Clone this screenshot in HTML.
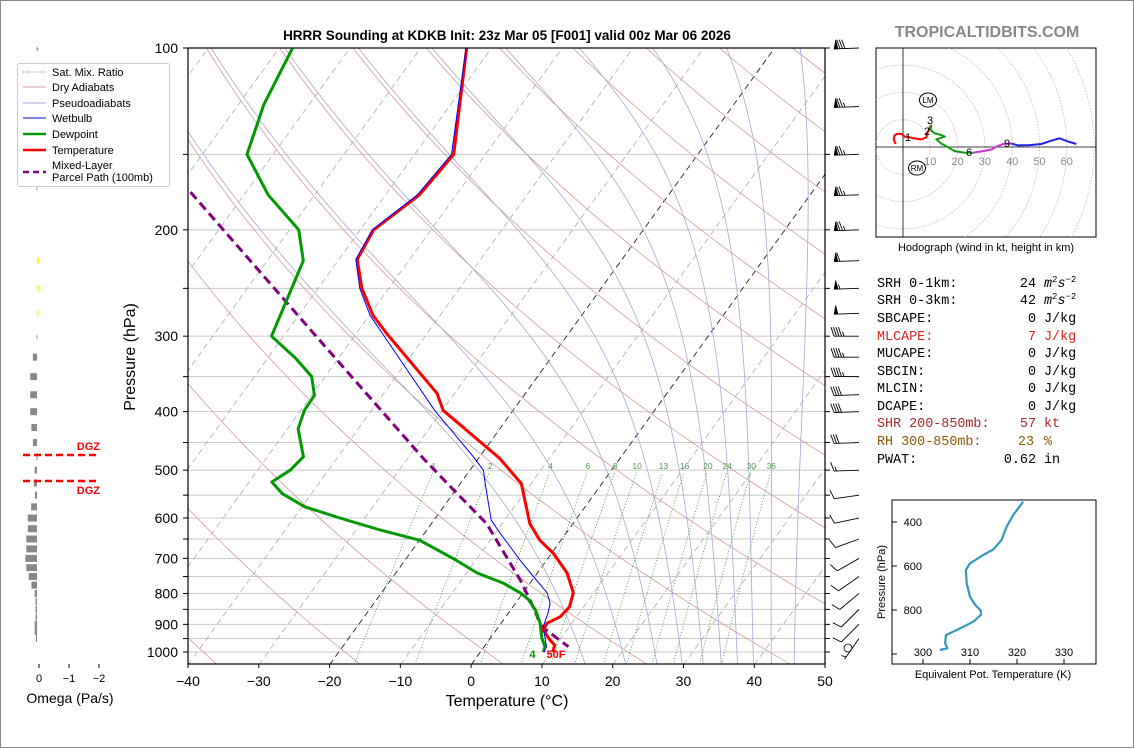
<!DOCTYPE html>
<html><head><meta charset="utf-8"><style>
html,body{margin:0;padding:0;background:#fff}
svg{display:block;font-family:"Liberation Sans",sans-serif}
.mono{font-family:"Liberation Mono",monospace;font-size:13.4px}
</style></head><body>
<svg id="svg" width="1134" height="748" viewBox="0 0 1134 748" xmlns="http://www.w3.org/2000/svg">
<rect x="0.5" y="0.5" width="1133" height="747" fill="#fff" stroke="#888"/>
<defs><clipPath id="mainclip"><rect x="188" y="48" width="637" height="616"/></clipPath>
<clipPath id="hodoclip"><rect x="876" y="48" width="220" height="189"/></clipPath></defs>
<g id="bg" clip-path="url(#mainclip)"></g>
<g id="series" clip-path="url(#mainclip)"></g>
<g id="axes"></g>
<g id="barbs"></g>
<g id="omega"></g>
<g id="hodo"></g>
<g id="ept"></g>

<text x="507" y="40" text-anchor="middle" font-size="13.5" font-weight="bold">HRRR Sounding at KDKB Init: 23z Mar 05 [F001] valid 00z Mar 06 2026</text>
<text x="987" y="37" text-anchor="middle" font-size="16" font-weight="bold" fill="#888">TROPICALTIDBITS.COM</text>
<text x="507" y="706" text-anchor="middle" font-size="16">Temperature (°C)</text>
<text transform="translate(135,357) rotate(-90)" text-anchor="middle" font-size="16">Pressure (hPa)</text>

<g>
<rect x="17.5" y="63.5" width="152" height="123" rx="2" fill="#fff" stroke="#ccc"/>
<line x1="23" y1="72" x2="46" y2="72" stroke="green" stroke-dasharray="1,1.5" stroke-width="0.8"/><text x="52" y="76" font-size="11">Sat. Mix. Ratio</text>
<line x1="23" y1="87" x2="46" y2="87" stroke="#d9a0a0" stroke-width="1"/><text x="52" y="91" font-size="11">Dry Adiabats</text>
<line x1="23" y1="103" x2="46" y2="103" stroke="#a0a0d8" stroke-width="1"/><text x="52" y="107" font-size="11">Pseudoadiabats</text>
<line x1="23" y1="118" x2="46" y2="118" stroke="blue" stroke-width="1"/><text x="52" y="122" font-size="11">Wetbulb</text>
<line x1="23" y1="134" x2="46" y2="134" stroke="#009900" stroke-width="2.5"/><text x="52" y="138" font-size="11">Dewpoint</text>
<line x1="23" y1="150" x2="46" y2="150" stroke="red" stroke-width="2.5"/><text x="52" y="154" font-size="11">Temperature</text>
<line x1="23" y1="172" x2="46" y2="172" stroke="purple" stroke-width="2.5" stroke-dasharray="6,4"/><text x="52" y="169" font-size="11">Mixed-Layer</text><text x="52" y="181" font-size="11">Parcel Path (100mb)</text>
</g>

<g class="mono">
<text x="877" y="287" class="mono">SRH 0-1km:</text><text x="1036" y="287" text-anchor="end" class="mono">24</text><text x="1044" y="287" class="mono"><tspan font-style="italic">m</tspan><tspan font-size="9" dy="-5">2</tspan><tspan dy="5" font-style="italic">s</tspan><tspan font-size="9" dy="-5">−2</tspan></text>
<text x="877" y="304" class="mono">SRH 0-3km:</text><text x="1036" y="304" text-anchor="end" class="mono">42</text><text x="1044" y="304" class="mono"><tspan font-style="italic">m</tspan><tspan font-size="9" dy="-5">2</tspan><tspan dy="5" font-style="italic">s</tspan><tspan font-size="9" dy="-5">−2</tspan></text>
<text x="877" y="322" class="mono">SBCAPE:</text><text x="1036" y="322" text-anchor="end" class="mono">0</text><text x="1044" y="322" class="mono">J/kg</text>
<text x="877" y="340" class="mono" fill="#dd2222">MLCAPE:</text><text x="1036" y="340" text-anchor="end" class="mono" fill="#dd2222">7</text><text x="1044" y="340" class="mono" fill="#dd2222">J/kg</text>
<text x="877" y="357" class="mono">MUCAPE:</text><text x="1036" y="357" text-anchor="end" class="mono">0</text><text x="1044" y="357" class="mono">J/kg</text>
<text x="877" y="375" class="mono">SBCIN:</text><text x="1036" y="375" text-anchor="end" class="mono">0</text><text x="1044" y="375" class="mono">J/kg</text>
<text x="877" y="392" class="mono">MLCIN:</text><text x="1036" y="392" text-anchor="end" class="mono">0</text><text x="1044" y="392" class="mono">J/kg</text>
<text x="877" y="410" class="mono">DCAPE:</text><text x="1036" y="410" text-anchor="end" class="mono">0</text><text x="1044" y="410" class="mono">J/kg</text>
<text x="877" y="427" class="mono" fill="#a52a2a">SHR 200-850mb:</text><text x="1036" y="427" text-anchor="end" class="mono" fill="#a52a2a">57</text><text x="1044" y="427" class="mono" fill="#a52a2a">kt</text>
<text x="877" y="445" class="mono" fill="#8b5a00">RH 300-850mb:</text><text x="1034" y="445" text-anchor="end" class="mono" fill="#8b5a00">23</text><text x="1044" y="445" class="mono" fill="#8b5a00">%</text>
<text x="877" y="463" class="mono">PWAT:</text><text x="1036" y="463" text-anchor="end" class="mono">0.62</text><text x="1044" y="463" class="mono">in</text>
</g>

<script>
// ===== Sounding data =====
const tempP = [100,150,175,200,224,250,277,297,373,398,478,526,613,653,687,740,798,842,874,896,919,955,974,1000];
const tempT = [-63.5,-54.5,-55.2,-58.1,-57.4,-53.8,-49.5,-45.7,-32.5,-29.9,-17.0,-11.4,-6.1,-3.0,0.3,4.2,7.1,8.0,7.7,6.5,6.6,8.6,9.8,10.2];
const dewP = [100,124,150,175,200,225,300,326,350,376,398,427,475,500,523,547,575,600,628,653,700,740,769,798,818,852,896,949,980,1000];
const dewT = [-88.1,-86.4,-83.7,-76.6,-68.7,-64.9,-61.7,-56.1,-51.9,-49.6,-49.5,-48.5,-44.9,-45.4,-46.8,-44.1,-39.6,-33.5,-26.6,-20.0,-13.4,-8.5,-3.8,-0.4,1.4,3.5,5.5,7.3,8.6,8.9];
const wetP = [100,150,175,200,224,250,277,297,398,475,500,526,605,636,704,750,798,831,863,908,980,1000];
const wetT = [-63.6,-54.8,-55.5,-58.3,-57.6,-54.1,-49.9,-46.3,-31.1,-20.9,-18.1,-16.5,-11.9,-9.3,-3.8,-0.2,3.4,4.9,5.6,6.3,8.8,9.0];
const parcelP = [160,173,300,478,539,613,760,820,908,980];
const parcelT = [-92.6,-87.9,-55.4,-27.8,-20.3,-12.2,-1.7,1.7,6.1,11.9];
const mixRatios = [1,2,4,6,8,10,13,16,20,24,30,36];
const xTicks = [-40,-30,-20,-10,0,10,20,30,40,50];
const pTicks = [100,200,300,400,500,600,700,800,900,1000];
const isobars = [100,150,200,250,300,350,400,450,500,550,600,650,700,750,800,850,900,950,1000];
// wind
const barbP = [100,125,150,175,200,225,250,275,300,325,350,375,400,450,500,550,600,650,700,750,800,850,900,950,1000];
const barbSpd = [80,75,75,75,75,60,55,50,45,45,45,40,40,30,15,10,10,10,10,10,10,10,10,5,0];
const barbDir = [268,268,268,268,268,268,268,268,270,270,270,268,268,268,268,262,258,250,240,235,230,225,225,215,0];
// omega
const omegaP = [325,350,375,400,425,450,475,500,525,550,575,600,625,650,675,700,725,750,775,800,825,850,875,900,925,950];
const omegaV = [0.17,0.26,0.26,0.26,0.22,0.17,0.05,0.11,0.14,0.1,0.23,0.34,0.34,0.39,0.39,0.42,0.39,0.31,0.22,0.11,0.08,0.08,0.08,0.11,0.11,0.07];
const omegaNegP = [225,250,275];
const omegaNegV = [-0.05,-0.04,-0.02];
// hodograph (u,v kt)
const hodoU03 = [-2.7,-3.4,-3.1,-2.2,-0.6,0.6,2.4,4.3,6.7,8.5,8.9,9.8,10.4];
const hodoV03 = [1.1,2.8,4.2,4.8,4.8,3.8,3.5,3.1,2.8,3.5,5.0,7.2,8.1];
const hodoU36 = [10.4,10.1,11.6,14.0,15.3,12.2,14.0,16.5,18.9,22.6,25.6];
const hodoV36 = [8.1,6.2,5.0,4.4,3.8,2.8,1.3,-0.1,-1.5,-2.1,-2.1];
const hodoU69 = [25.6,29.3,32.4,34.2,36.6,39.7];
const hodoV69 = [-2.1,-1.5,-0.9,0.1,1.1,1.3];
const hodoU9 = [39.7,42.1,46.4,50.7,54.3,57.4,60.4,63.5];
const hodoV9 = [1.3,0.6,0.7,1.1,2.3,3.2,2.0,1.1];
// theta-e profile
const eptP = [308,368,421,482,524,550,588,618,679,740,777,803,823,853,891,914,951,974,982];
const eptK = [321.3,319.2,317.8,316.7,315.0,312.8,310.0,309.1,309.3,310.0,311.1,312.3,312.3,310.7,307.2,304.9,304.7,305.2,303.6];

// ===== helpers =====
const NS='http://www.w3.org/2000/svg';
function mk(tag, parent, attrs){const e=document.createElementNS(NS,tag);for(const k in attrs)e.setAttribute(k,attrs[k]);parent.appendChild(e);return e;}
const yP = p => 48 + 604*Math.log10(p/100);
const xT = (T,p) => 188 + (T+40)*7.078 + 0.7215*(664.8 - yP(p));
function pathFrom(ps, ts){return ps.map((p,i)=>(i?'L':'M')+xT(ts[i],p).toFixed(1)+','+yP(p).toFixed(1)).join('');}

const bg=document.getElementById('bg'), ser=document.getElementById('series'), ax=document.getElementById('axes');

// isobars
isobars.forEach(p=>{const l=mk('line',bg,{x1:188,x2:825,y1:yP(p),y2:yP(p),stroke:'#c8c8c8','stroke-width':1});

});
// isotherms
for(let T=-130;T<=50;T+=10){
  const blk=(T===0||T===-20);
  const l=mk('line',bg,{x1:xT(T,1050),y1:yP(1050),x2:xT(T,100),y2:yP(100),stroke:blk?'#222':'#aaa','stroke-width':blk?0.9:0.8,'stroke-dasharray':'6,4'});
  
  
}
// dry adiabats (20 K spacing)
for(let th=214;th<=534;th+=20){
  let d='';for(let p=1050;p>=100;p-=10){const T=th*Math.pow(p/1000,0.286)-273.15;d+=(p===1050?'M':'L')+xT(T,p).toFixed(1)+','+yP(p).toFixed(1);}
  const l=mk('path',bg,{d:d,fill:'none',stroke:'#d49a9a','stroke-width':0.8});
  
  
}
// moist adiabats, integrated downward from 100 hPa
function rs(T,p){const es=6.112*Math.exp(17.67*(T-273.15)/(T-29.65));return 0.622*es/(p-es);}
function dTdp(T,p){const r=rs(T,p);return (287*T+2.5e6*r)/(p*(1005+2.5e6*2.5e6*r*0.622/(287*T*T)));}
for(let Ttop=-110;Ttop<=-5;Ttop+=10.4){
  let pts=[];let T=Ttop+273.15;
  for(let p=100;p<=1050;p+=2){pts.push([p,T]);T+=dTdp(T,p)*2;if(T>340)break;}
  const d=pts.map((q,i)=>(i?'L':'M')+xT(q[1]-273.15,q[0]).toFixed(1)+','+yP(q[0]).toFixed(1)).join('');
  const l=mk('path',bg,{d:d,fill:'none',stroke:'#a6a6d8','stroke-width':0.8});
  
  
}
// mixing ratio lines
function tdW(w,p){const e=w*p/(622+w);const a=Math.log(e/6.112);return 243.5*a/(17.67-a);}
mixRatios.forEach(w=>{
  let d='';for(let p=1050;p>=505;p-=5){d+=(p===1050?'M':'L')+xT(tdW(w,p),p).toFixed(1)+','+yP(p).toFixed(1);}
  const l=mk('path',bg,{d:d,fill:'none',stroke:'#2a9a2a','stroke-width':0.8,'stroke-dasharray':'1,2'});
  
  
  const t=mk('text',bg,{x:xT(tdW(w,500),500).toFixed(1),y:469,'font-size':8.5,fill:'#4a9a4a','text-anchor':'middle'});
  t.textContent=w;
  
  
});
// series
function series(ps,ts,col,w,dash,name){
  const a={d:pathFrom(ps,ts),fill:'none',stroke:col,'stroke-width':w,'stroke-linejoin':'round'};
  if(dash)a['stroke-dasharray']=dash;
  const l=mk('path',ser,a);
  
  
}
series(parcelP,parcelT,'purple',3,'9,5','parcel-path-line');
series(dewP,dewT,'#009900',3,null,'dewpoint-line');
series(tempP,tempT,'red',3,null,'temperature-line');
series(wetP,wetT,'blue',1,null,'wetbulb-line');
// surface labels
{const t=mk('text',ser,{x:xT(tempT[tempT.length-1],1000)-6,y:yP(1000)+6,'font-size':11,'font-weight':'bold',fill:'red'});t.textContent='50F';


const d=mk('text',ser,{x:xT(dewT[dewT.length-1],1000)-14,y:yP(1000)+6,'font-size':11,'font-weight':'bold',fill:'#009900'});d.textContent='4';

}

// axes frame
mk('rect',ax,{x:188,y:48,width:637,height:616,fill:'none',stroke:'#000','stroke-width':1.2});
xTicks.forEach(T=>{const x=188+(T+40)*7.078;mk('line',ax,{x1:x,x2:x,y1:664,y2:668,stroke:'#000'});
  const t=mk('text',ax,{x:x,y:686,'text-anchor':'middle','font-size':14});t.textContent=(T<0?'−':'')+Math.abs(T);
  
  });
isobars.forEach(p=>{mk('line',ax,{x1:183,x2:188,y1:yP(p),y2:yP(p),stroke:'#000'});mk('line',ax,{x1:825,x2:830,y1:yP(p),y2:yP(p),stroke:'#000'});});
pTicks.forEach(p=>{const t=mk('text',ax,{x:178,y:yP(p)+5,'text-anchor':'end','font-size':14});t.textContent=p;
  
  });

// wind barbs
const bgp=document.getElementById('barbs');
barbP.forEach((p,i)=>{
  const y=yP(p), px=859, spd=barbSpd[i];
  if(spd<2.5){const c=mk('circle',bgp,{cx:848,cy:y-4,r:4,fill:'none',stroke:'#000','stroke-width':0.8});
    
    return;}
  const r=barbDir[i]*Math.PI/180, L=25;
  const ux=Math.sin(r), uy=-Math.cos(r); const nx=-uy, ny=ux;
  const g=mk('g',bgp,{});
  
  
  const ex=px+ux*L, ey=y+uy*L;
  let d='M'+px+','+y+'L'+ex.toFixed(1)+','+ey.toFixed(1);
  let s=spd, pos=0; let fl='';
  while(s>=50){const ax1=ex-ux*pos, ay1=ey-uy*pos, bx=ex-ux*(pos+4), by=ey-uy*(pos+4);
    fl+='M'+ax1.toFixed(1)+','+ay1.toFixed(1)+'L'+(ax1+nx*9-ux*2).toFixed(1)+','+(ay1+ny*9-uy*2).toFixed(1)+'L'+bx.toFixed(1)+','+by.toFixed(1)+'Z';pos+=6;s-=50;}
  while(s>=10){const bx=ex-ux*pos, by=ey-uy*pos;d+='M'+bx.toFixed(1)+','+by.toFixed(1)+'L'+(bx+nx*9+ux*3).toFixed(1)+','+(by+ny*9+uy*3).toFixed(1);pos+=2.5;s-=10;}
  if(s>=5){if(pos===0)pos=2.5;const bx=ex-ux*pos, by=ey-uy*pos;d+='M'+bx.toFixed(1)+','+by.toFixed(1)+'L'+(bx+nx*4.5+ux*1.5).toFixed(1)+','+(by+ny*4.5+uy*1.5).toFixed(1);}
  mk('path',g,{d:d,stroke:'#000','stroke-width':0.9,fill:'none'});
  if(fl)mk('path',g,{d:fl,fill:'#000',stroke:'#000','stroke-width':0.5});
});

// omega panel
const om=document.getElementById('omega');
const ox = v => 38 - v*30;
mk('line',om,{x1:38,x2:38,y1:48,y2:50,stroke:'#999'});
[100,170].forEach(p=>mk('line',om,{x1:37,x2:37,y1:yP(p)-1,y2:yP(p)+3,stroke:'#999'}));
mk('line',om,{x1:37,x2:37,y1:yP(300)-1,y2:yP(300)+3,stroke:'#999'});
omegaP.forEach((p,i)=>{const x=ox(omegaV[i]);const r=mk('rect',om,{x:Math.min(x,37),y:yP(p)-3.5,width:Math.max(Math.abs(37-x),1),height:7,fill:'#888'});
  
  });
omegaNegP.forEach((p,i)=>{const x=ox(omegaNegV[i]);const r=mk('rect',om,{x:37,y:yP(p)-3,width:Math.max(x-37,1),height:6,fill:'#ffff00'});
  
  });
[0,-1,-2].forEach(v=>{mk('line',om,{x1:ox(v)+1,x2:ox(v)+1,y1:664,y2:668,stroke:'#000'});
  const t=mk('text',om,{x:ox(v)+1,y:682,'text-anchor':'middle','font-size':11});t.textContent=v===0?'0':'−'+Math.abs(v);
  
  });
{const t=mk('text',om,{x:70,y:703,'text-anchor':'middle','font-size':14});t.textContent='Omega (Pa/s)';

}
[455,481].forEach((y,i)=>{const l=mk('line',om,{x1:23,x2:98,y1:y,y2:y,stroke:'red','stroke-width':2.5,'stroke-dasharray':'7,4'});
  
  
  const t=mk('text',om,{x:100,y:i?494:450,'text-anchor':'end','font-size':11,'font-weight':'bold',fill:'red'});t.textContent='DGZ';
  
  });

// hodograph
const ho=document.getElementById('hodo');
const hx = u => 903 + u*2.73, hy = v => 147 - v*2.73;
mk('rect',ho,{x:876,y:48,width:220,height:189,fill:'#fff',stroke:'#000','stroke-width':1});
const hc=mk('g',ho,{'clip-path':'url(#hodoclip)'});
for(let r=10;r<=90;r+=10)mk('circle',hc,{cx:903,cy:147,r:r*2.73,fill:'none',stroke:'#bbb','stroke-width':0.8,'stroke-dasharray':'1.5,1.5'});
mk('line',hc,{x1:876,x2:1096,y1:147,y2:147,stroke:'#000','stroke-width':0.8});
mk('line',hc,{x1:903,x2:903,y1:48,y2:237,stroke:'#000','stroke-width':0.8});
[10,20,30,40,50,60].forEach(v=>{const t=mk('text',hc,{x:hx(v),y:165,'text-anchor':'middle','font-size':11,fill:'#888'});t.textContent=v;
  
  });
function hseg(us,vs,col,name){const d=us.map((u,i)=>(i?'L':'M')+hx(u).toFixed(1)+','+hy(vs[i]).toFixed(1)).join('');
  const l=mk('path',hc,{d:d,fill:'none',stroke:col,'stroke-width':2,'stroke-linejoin':'round'});
  
  }
hseg(hodoU03,hodoV03,'red','hodograph-0-3km');
hseg(hodoU36,hodoV36,'#119911','hodograph-3-6km');
hseg(hodoU69,hodoV69,'#cc33cc','hodograph-6-9km');
hseg(hodoU9,hodoV9,'#2222ee','hodograph-9km-plus');
[['1',908,141],['2',927,135],['3',930,124],['6',969,156],['9',1007,147]].forEach(a=>{const t=mk('text',hc,{x:a[1],y:a[2],'text-anchor':'middle','font-size':11});t.textContent=a[0];
  
  });
[['LM',928,100],['RM',917,168]].forEach(a=>{mk('ellipse',hc,{cx:a[1],cy:a[2],rx:8.5,ry:7,fill:'none',stroke:'#000','stroke-width':1});
  const t=mk('text',hc,{x:a[1],y:a[2]+3,'text-anchor':'middle','font-size':8});t.textContent=a[0];
  
  });
{const t=mk('text',ho,{x:986,y:251,'text-anchor':'middle','font-size':11});t.textContent='Hodograph (wind in kt, height in km)';

}

// EPT panel
const ep=document.getElementById('ept');
const ex_ = k => 923 + (k-300)*4.7, ey_ = p => 522 + (p-400)*0.22;
mk('rect',ep,{x:892,y:500,width:204,height:164,fill:'#fff',stroke:'#000','stroke-width':1});
[400,600,800,1000].forEach(p=>{mk('line',ep,{x1:892,x2:897,y1:ey_(p),y2:ey_(p),stroke:'#000'});
  if(p<1000){const t=mk('text',ep,{x:922,y:ey_(p)+4,'text-anchor':'end','font-size':11});t.textContent=p;
  
  }});
[300,310,320,330].forEach(k=>{mk('line',ep,{x1:ex_(k),x2:ex_(k),y1:659,y2:664,stroke:'#000'});
  const t=mk('text',ep,{x:ex_(k),y:656,'text-anchor':'middle','font-size':11});t.textContent=k;
  
  });
{const d=eptP.map((p,i)=>(i?'L':'M')+ex_(eptK[i]).toFixed(1)+','+ey_(p).toFixed(1)).join('');
const l=mk('path',ep,{d:d,fill:'none',stroke:'#3399bb','stroke-width':2.2,'stroke-linejoin':'round'});

}
{const t=mk('text',ep,{x:993,y:678,'text-anchor':'middle','font-size':11});t.textContent='Equivalent Pot. Temperature (K)';


const t2=mk('text',ep,{x:0,y:0,'text-anchor':'middle','font-size':11,transform:'translate(885,582) rotate(-90)'});t2.textContent='Pressure (hPa)';

}
</script>
</svg>
</body></html>
